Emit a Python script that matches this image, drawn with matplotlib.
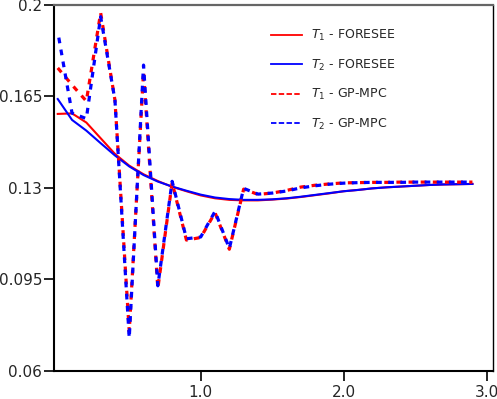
import matplotlib.pyplot as plt
from matplotlib.lines import Line2D

OUTPUT_PNG = "out.png"

# time axis: 30 samples, dt = 0.1
t = [round(0.1 * i, 1) for i in range(30)]

# FORESEE trajectories (solid)
t1_foresee = [0.1583, 0.1585, 0.1550, 0.1490, 0.1430, 0.1385, 0.1352, 0.1326,
              0.1304, 0.1287, 0.1271, 0.1260, 0.1254, 0.1252, 0.1252, 0.1255,
              0.1259, 0.1265, 0.1272, 0.1279, 0.1287, 0.1292, 0.1298, 0.1302,
              0.1305, 0.1308, 0.1311, 0.1313, 0.1314, 0.1315]
t2_foresee = [0.1640, 0.1560, 0.1519, 0.1471, 0.1424, 0.1382, 0.1349, 0.1324,
              0.1305, 0.1289, 0.1274, 0.1263, 0.1257, 0.1254, 0.1254, 0.1256,
              0.1260, 0.1266, 0.1273, 0.1280, 0.1287, 0.1292, 0.1298, 0.1302,
              0.1305, 0.1308, 0.1311, 0.1313, 0.1314, 0.1315]

# GP-MPC trajectories (dashed)
t1_gpmpc = [0.1759, 0.1694, 0.1632, 0.1970, 0.1636, 0.0750, 0.1745, 0.0915,
            0.1320, 0.1100, 0.1110, 0.1205, 0.1065, 0.1295, 0.1275, 0.1280,
            0.1290, 0.1303, 0.1310, 0.1315, 0.1319, 0.1320, 0.1321, 0.1321,
            0.1322, 0.1322, 0.1322, 0.1322, 0.1322, 0.1322]
t2_gpmpc = [0.1898, 0.1586, 0.1565, 0.1955, 0.1636, 0.0725, 0.1770, 0.0925,
            0.1325, 0.1105, 0.1112, 0.1210, 0.1068, 0.1298, 0.1276, 0.1280,
            0.1288, 0.1300, 0.1308, 0.1314, 0.1318, 0.1320, 0.1321, 0.1321,
            0.1321, 0.1322, 0.1322, 0.1322, 0.1322, 0.1322]

y_ticks = [0.06, 0.095, 0.13, 0.165, 0.2]
y_ticklabels = ["0.06", "0.095", "0.13", "0.165", "0.2"]
x_ticks = [1.0, 2.0, 3.0]

TEXT = "#262626"

fig = plt.figure(figsize=(4.97, 3.99), dpi=100)
ax = fig.add_axes([0.1087, 0.0709, 0.8833, 0.9166])

ax.plot(t, t1_foresee, color="red", lw=1.5)
ax.plot(t, t2_foresee, color="blue", lw=1.5)
ax.plot(t, t1_gpmpc, color="red", lw=2.3, linestyle=(0, (1.8, 2.0)))
ax.plot(t, t2_gpmpc, color="blue", lw=2.3, linestyle=(1.9, (1.8, 2.0)))

ax.set_xlim(-0.026, 3.044)
ax.set_ylim(0.06, 0.2)
ax.set_xticks(x_ticks)
ax.set_xticklabels(["1.0", "2.0", "3.0"])
ax.set_yticks(y_ticks)
ax.set_yticklabels(y_ticklabels)
ax.tick_params(axis="both", direction="out", length=7.5, width=1.2,
               labelsize=11, labelcolor=TEXT)
ax.tick_params(axis="y", pad=1)
ax.tick_params(axis="x", pad=3)

for side in ("left", "bottom"):
    ax.spines[side].set_linewidth(1.5)
    ax.spines[side].set_color("black")
ax.spines["top"].set_linewidth(1.6)
ax.spines["top"].set_color("#666666")
ax.spines["right"].set_linewidth(1.0)
ax.spines["right"].set_color("black")

handles = [
    Line2D([], [], color="red", lw=1.3),
    Line2D([], [], color="blue", lw=1.3),
    Line2D([], [], color="red", lw=1.3, linestyle=(0, (3, 1.3))),
    Line2D([], [], color="blue", lw=1.3, linestyle=(0, (3, 1.3))),
]
labels = [r"$T_1$ - FORESEE", r"$T_2$ - FORESEE",
          r"$T_1$ - GP-MPC", r"$T_2$ - GP-MPC"]
leg = fig.legend(handles, labels, loc="upper left",
                 bbox_to_anchor=(271 / 497, 1 - 28 / 399),
                 frameon=False, fontsize=9, borderpad=0, borderaxespad=0,
                 handlelength=2.5, handletextpad=0.7, labelspacing=1.15)
for txt in leg.get_texts():
    txt.set_color(TEXT)

fig.savefig(OUTPUT_PNG, dpi=100)
